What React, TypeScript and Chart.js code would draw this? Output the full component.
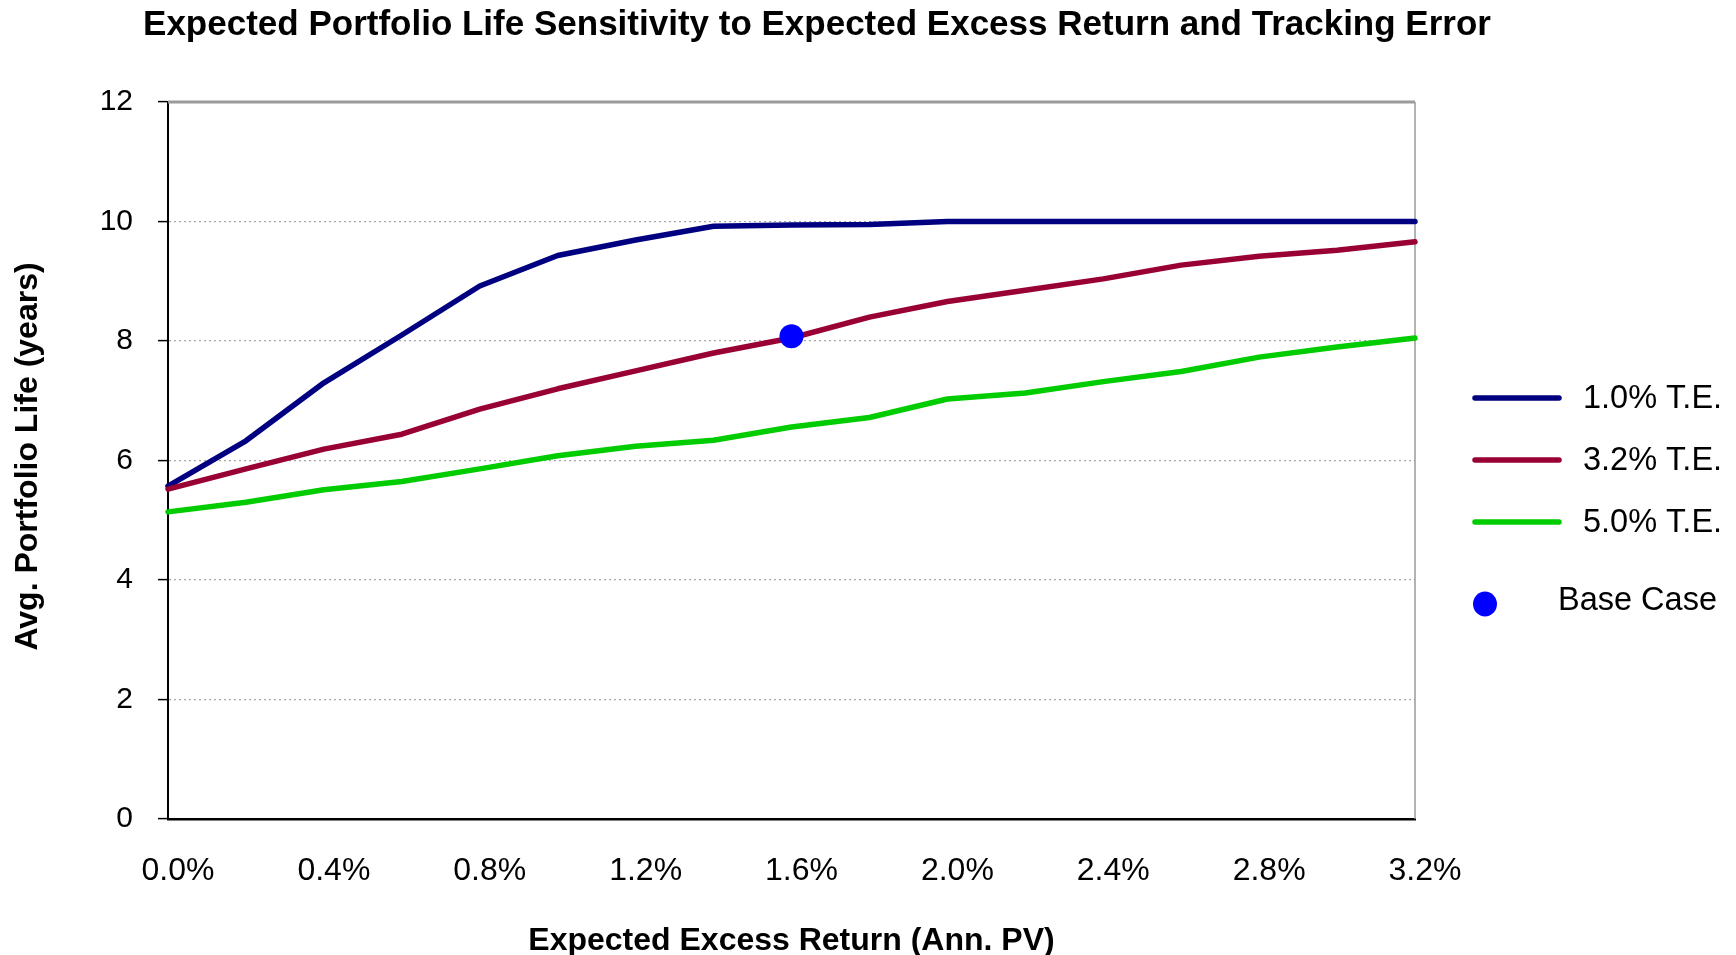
import React, { useEffect, useRef } from "react";
import { Chart, registerables } from "chart.js";

Chart.register(...registerables);

const TITLE = "Expected Portfolio Life Sensitivity to Expected Excess Return and Tracking Error";
const X_TITLE = "Expected Excess Return (Ann. PV)";
const Y_TITLE = "Avg. Portfolio Life (years)";

const categories = [
  "0.0%", "0.2%", "0.4%", "0.6%", "0.8%", "1.0%", "1.2%", "1.4%", "1.6%",
  "1.8%", "2.0%", "2.2%", "2.4%", "2.6%", "2.8%", "3.0%", "3.2%",
];

const te10 = [5.57, 6.33, 7.3, 8.1, 8.92, 9.43, 9.69, 9.92, 9.94, 9.95, 10.0, 10.0, 10.0, 10.0, 10.0, 10.0, 10.0];
const te32 = [5.52, 5.86, 6.19, 6.44, 6.86, 7.2, 7.5, 7.8, 8.05, 8.4, 8.66, 8.85, 9.04, 9.27, 9.42, 9.52, 9.66];
const te50 = [5.14, 5.3, 5.51, 5.65, 5.86, 6.08, 6.24, 6.34, 6.56, 6.72, 7.03, 7.13, 7.32, 7.49, 7.73, 7.9, 8.05];

const baseCaseCategory = "1.6%";
const baseCaseValue = 8.08;

const seriesNames = ["1.0% T.E.", "3.2% T.E.", "5.0% T.E."];
const seriesColors = ["#000080", "#990033", "#00CC00"];
const baseCaseName = "Base Case";
const baseCaseColor = "#0000FF";

const yTicks = [0, 2, 4, 6, 8, 10, 12];

const FONT = '"Liberation Sans", Arial, Helvetica, sans-serif';

export default function App() {
  const ref = useRef<HTMLCanvasElement | null>(null);

  useEffect(() => {
    document.body.style.margin = "0";
    const canvas = ref.current;
    if (!canvas) return;

    const baseData = categories.map((c) => (c === baseCaseCategory ? baseCaseValue : null));

    const decor = {
      id: "decor",
      beforeDatasetsDraw(chart: any) {
        const { ctx, chartArea } = chart;
        const y = chart.scales.y;
        ctx.save();
        ctx.strokeStyle = "#9a9a9a";
        ctx.lineWidth = 3;
        const yt = y.getPixelForValue(12);
        ctx.beginPath();
        ctx.moveTo(chartArea.left, yt);
        ctx.lineTo(chartArea.right, yt);
        ctx.stroke();
        ctx.lineWidth = 1.5;
        ctx.beginPath();
        ctx.moveTo(chartArea.right, yt);
        ctx.lineTo(chartArea.right, chartArea.bottom);
        ctx.stroke();
        ctx.restore();
      },
      afterDraw(chart: any) {
        const { ctx, chartArea } = chart;
        ctx.save();
        ctx.fillStyle = "#000";
        ctx.textBaseline = "middle";
        ctx.font = `bold 35px ${FONT}`;
        ctx.textAlign = "center";
        ctx.fillText(TITLE, 817, 25);
        ctx.font = `bold 32px ${FONT}`;
        ctx.fillText(X_TITLE, (chartArea.left + chartArea.right) / 2, 941);
        ctx.save();
        ctx.translate(28, (chartArea.top + chartArea.bottom) / 2 - 4);
        ctx.rotate(-Math.PI / 2);
        ctx.fillText(Y_TITLE, 0, 0);
        ctx.restore();
        ctx.font = `32.5px ${FONT}`;
        ctx.textAlign = "left";
        const rows = [398, 460, 522];
        seriesNames.forEach((name, i) => {
          ctx.strokeStyle = seriesColors[i];
          ctx.lineWidth = 5.5;
          ctx.lineCap = "round";
          ctx.beginPath();
          ctx.moveTo(1475, rows[i]);
          ctx.lineTo(1559, rows[i]);
          ctx.stroke();
          ctx.fillText(name, 1583, rows[i] + 1);
        });
        ctx.fillStyle = baseCaseColor;
        ctx.beginPath();
        ctx.ellipse(1485, 604, 12, 12.5, 0, 0, Math.PI * 2);
        ctx.fill();
        ctx.fillStyle = "#000";
        ctx.fillText(baseCaseName, 1558, 601);
        ctx.restore();
      },
    };

    const lineDs = (i: number, data: number[], order: number) => ({
      label: seriesNames[i],
      data,
      borderColor: seriesColors[i],
      backgroundColor: seriesColors[i],
      borderWidth: 5.5,
      pointRadius: 0,
      pointHoverRadius: 0,
      tension: 0,
      fill: false,
      borderCapStyle: "round",
      borderJoinStyle: "round",
      order,
      clip: false,
    });

    const chart = new Chart(canvas, {
      type: "line",
      data: {
        labels: categories,
        datasets: [
          lineDs(0, te10, 3),
          lineDs(1, te32, 2),
          lineDs(2, te50, 1),
          {
            label: baseCaseName,
            data: baseData,
            showLine: false,
            pointRadius: 12,
            pointHoverRadius: 12,
            pointBackgroundColor: baseCaseColor,
            pointBorderColor: baseCaseColor,
            pointBorderWidth: 0,
            borderColor: baseCaseColor,
            backgroundColor: baseCaseColor,
            order: 0,
            clip: false,
          } as any,
        ],
      },
      options: {
        responsive: false,
        animation: false,
        devicePixelRatio: 1,
        layout: { padding: { top: 102, right: 321, left: 0, bottom: 0 } },
        plugins: {
          legend: { display: false },
          title: { display: false },
          tooltip: { enabled: false },
        },
        scales: {
          x: {
            type: "category",
            offset: false,
            grid: { display: false, drawTicks: false },
            border: { display: true, color: "#000", width: 2.5 },
            ticks: {
              autoSkip: false,
              maxRotation: 0,
              padding: 33,
              labelOffset: 10,
              color: "#000",
              font: { family: FONT, size: 32 },
              callback: (_v: any, idx: number) => (idx % 2 === 0 ? categories[idx] : ""),
            },
            afterFit: (s: any) => {
              s.height = 136;
            },
          },
          y: {
            min: 0,
            max: 12,
            afterBuildTicks: (s: any) => {
              s.ticks = yTicks.map((v) => ({ value: v }));
            },
            grid: {
              color: (ctx: any) =>
                ctx.tick && (ctx.tick.value === 0 || ctx.tick.value === 12) ? "rgba(0,0,0,0)" : "#a6a6a6",
              lineWidth: 1.2,
              drawTicks: true,
              tickLength: 10,
              tickColor: "#000",
              tickWidth: 1.5,
              tickBorderDash: [],
            },
            border: { display: true, color: "#000", width: 2, dash: [2, 3] },
            ticks: {
              padding: 25,
              color: "#000",
              font: { family: FONT, size: 30 },
            },
            afterFit: (s: any) => {
              s.width = 168;
            },
          },
        },
      } as any,
      plugins: [decor],
    });

    return () => chart.destroy();
  }, []);

  return (
    <div style={{ width: 1736, height: 955, background: "#fff" }}>
      <canvas ref={ref} width={1736} height={955} style={{ display: "block" }} />
    </div>
  );
}
